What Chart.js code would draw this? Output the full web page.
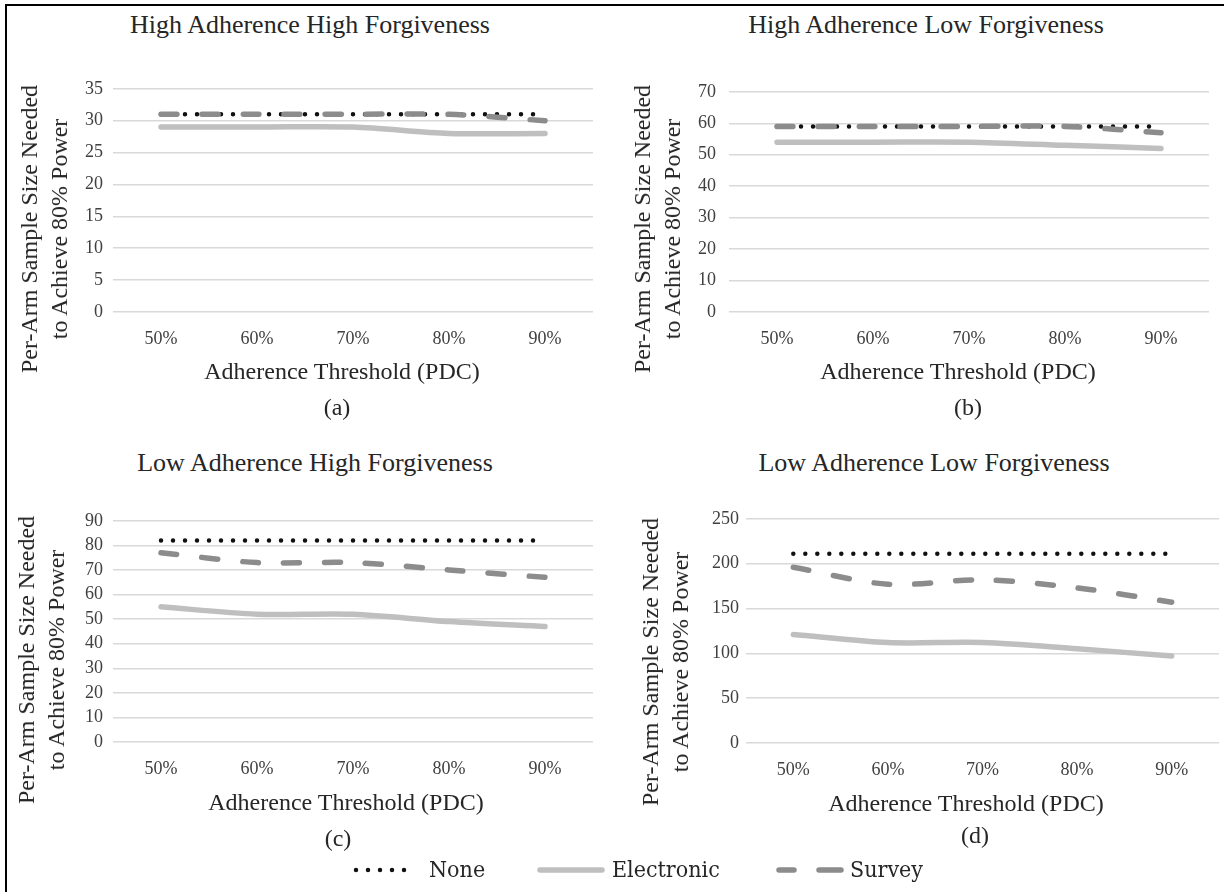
<!DOCTYPE html>
<html>
<head>
<meta charset="utf-8">
<script src="https://cdn.jsdelivr.net/npm/chart.js@4.4.1/dist/chart.umd.min.js"></script>
<style>
  body { margin: 0; background: #fff; width: 1224px; height: 892px; position: relative; overflow: hidden;
         font-family: 'Liberation Serif', 'Times New Roman', serif; color: #262626; }
  .t { position: absolute; white-space: nowrap; transform: translate(-50%, -50%); }
  .yl { position: absolute; white-space: nowrap; text-align: center; line-height: 30px; font-size: 24px;
        transform: translate(-50%, -50%) rotate(-90deg); }
  .lg { position: absolute; white-space: nowrap; font-family: 'DejaVu Serif Condensed', 'DejaVu Serif', serif;
        font-size: 23px; transform: translateY(-50%); color: #262626; }
  #frameL { position: absolute; left: 5px; top: 4px; width: 2px; height: 900px; background: #000; }
  #frameT { position: absolute; left: 5px; top: 4px; width: 1230px; height: 2px; background: #000; }
</style>
</head>
<body>
<div id="frameL"></div>
<div id="frameT"></div>

<script>
const FONT = "'Liberation Serif', 'Times New Roman', serif";

const thresholds = ['50%', '60%', '70%', '80%', '90%'];

// (a) high adherence, high forgiveness
const noneA = [31, 31, 31, 31, 31];
const electronicA = [29, 29, 29, 28, 28];
const surveyA = [31, 31, 31, 31, 30];
const yRangeA = [0, 35, 5];

// (b) high adherence, low forgiveness
const noneB = [59, 59, 59, 59, 59];
const electronicB = [54, 54, 54, 53, 52];
const surveyB = [59, 59, 59, 59, 57];
const yRangeB = [0, 70, 10];

// (c) low adherence, high forgiveness
const noneC = [82, 82, 82, 82, 82];
const electronicC = [55, 52, 52, 49, 47];
const surveyC = [77, 73, 73, 70, 67];
const yRangeC = [0, 90, 10];

// (d) low adherence, low forgiveness
const noneD = [211, 211, 211, 211, 211];
const electronicD = [121, 112, 112, 105, 97];
const surveyD = [196, 177, 182, 173, 157];
const yRangeD = [0, 250, 50];

const titles = ['High Adherence High Forgiveness', 'High Adherence Low Forgiveness',
                'Low Adherence High Forgiveness', 'Low Adherence Low Forgiveness'];
const xTitle = 'Adherence Threshold (PDC)';
const yTitle = ['Per-Arm Sample Size Needed', 'to Achieve 80% Power'];
const letters = ['(a)', '(b)', '(c)', '(d)'];

// plot box [left, top, right, bottom] and where the texts sit
const panels = [
  {none: noneA, elec: electronicA, surv: surveyA, y: yRangeA, box: [113, 83, 593, 312], pad: 10,
   title: [310, 25], yl: [44, 229], xt: [342, 371], let: [337, 407]},
  {none: noneB, elec: electronicB, surv: surveyB, y: yRangeB, box: [729, 83, 1209, 312], pad: 13,
   title: [926, 25], yl: [657, 229], xt: [958, 371], let: [968, 407]},
  {none: noneC, elec: electronicC, surv: surveyC, y: yRangeC, box: [113, 515, 593, 742], pad: 10,
   title: [315, 463], yl: [41, 660], xt: [346, 802], let: [338, 838]},
  {none: noneD, elec: electronicD, surv: surveyD, y: yRangeD, box: [746, 516, 1219, 743], pad: 7,
   title: [934, 463], yl: [665, 662], xt: [966, 803], let: [975, 835]}
];

function text(str, x, y, size, cls) {
  const d = document.createElement('div');
  d.className = cls || 't';
  d.style.left = x + 'px';
  d.style.top = y + 'px';
  if (size) d.style.fontSize = size + 'px';
  d.innerHTML = str;
  document.body.appendChild(d);
  return d;
}

function panel(p, i) {
  const yW = 60, xH = 48, padT = 15, padR = 4;
  const left = p.box[0] - yW, top = p.box[1] - padT;
  const w = p.box[2] - p.box[0] + yW + padR;
  const h = p.box[3] - p.box[1] + padT + xH;
  const cv = document.createElement('canvas');
  cv.width = w; cv.height = h;
  cv.style.cssText = 'position:absolute;left:' + left + 'px;top:' + top + 'px;width:' + w + 'px;height:' + h + 'px';
  document.body.appendChild(cv);

  new Chart(cv, {
    type: 'line',
    data: {
      labels: thresholds,
      datasets: [
        {label: 'None', data: p.none, borderColor: '#111', borderWidth: 4.5, borderDash: [0, 12],
         borderCapStyle: 'round', tension: 0, order: 2},
        {label: 'Electronic', data: p.elec, borderColor: '#BFBFBF', borderWidth: 5.5,
         borderCapStyle: 'round', tension: 0.3, order: 1},
        {label: 'Survey', data: p.surv, borderColor: '#8C8C8C', borderWidth: 5.5, borderDash: [16, 25],
         borderCapStyle: 'round', tension: 0.3, order: 0}
      ]
    },
    options: {
      responsive: false,
      animation: false,
      devicePixelRatio: 1,
      layout: {padding: {top: padT, right: padR, left: 0, bottom: 0}},
      elements: {point: {radius: 0}},
      plugins: {legend: {display: false}, tooltip: {enabled: false}},
      scales: {
        x: {
          offset: true,
          grid: {display: false, drawTicks: false},
          border: {display: false},
          ticks: {color: '#404040', font: {family: FONT, size: 18}, padding: 16, maxRotation: 0},
          afterFit: s => { s.height = xH; }
        },
        y: {
          min: p.y[0], max: p.y[1],
          grid: {color: '#D9D9D9', lineWidth: 1.5, drawTicks: false},
          border: {display: false},
          ticks: {stepSize: p.y[2], autoSkip: false, color: '#404040', font: {family: FONT, size: 18}, padding: p.pad},
          afterFit: s => { s.width = yW; }
        }
      }
    }
  });

  text(titles[i], p.title[0], p.title[1], 26);
  text(yTitle.join('<br>'), p.yl[0], p.yl[1], 0, 'yl');
  text(xTitle, p.xt[0], p.xt[1], 24);
  text(letters[i], p.let[0], p.let[1], 24);
}

panels.forEach(panel);

// shared legend
function marker(x, w, svg) {
  const d = document.createElement('div');
  d.style.cssText = 'position:absolute;left:' + x + 'px;top:863px;width:' + w + 'px;height:14px';
  d.innerHTML = '<svg width="' + w + '" height="14">' + svg + '</svg>';
  document.body.appendChild(d);
}
marker(352, 60, '<line x1="4" y1="7" x2="56" y2="7" stroke="#111" stroke-width="4.5" stroke-dasharray="0 12" stroke-linecap="round"/>');
marker(536, 72, '<line x1="4" y1="7" x2="66" y2="7" stroke="#BFBFBF" stroke-width="5.5" stroke-linecap="round"/>');
marker(775, 72, '<line x1="4" y1="7" x2="19" y2="7" stroke="#8C8C8C" stroke-width="5.5" stroke-linecap="round"/>' +
                '<line x1="44" y1="7" x2="66" y2="7" stroke="#8C8C8C" stroke-width="5.5" stroke-linecap="round"/>');
text('None', 429, 869, 0, 'lg');
text('Electronic', 612, 869, 0, 'lg');
text('Survey', 850, 869, 0, 'lg');
</script>
</body>
</html>
